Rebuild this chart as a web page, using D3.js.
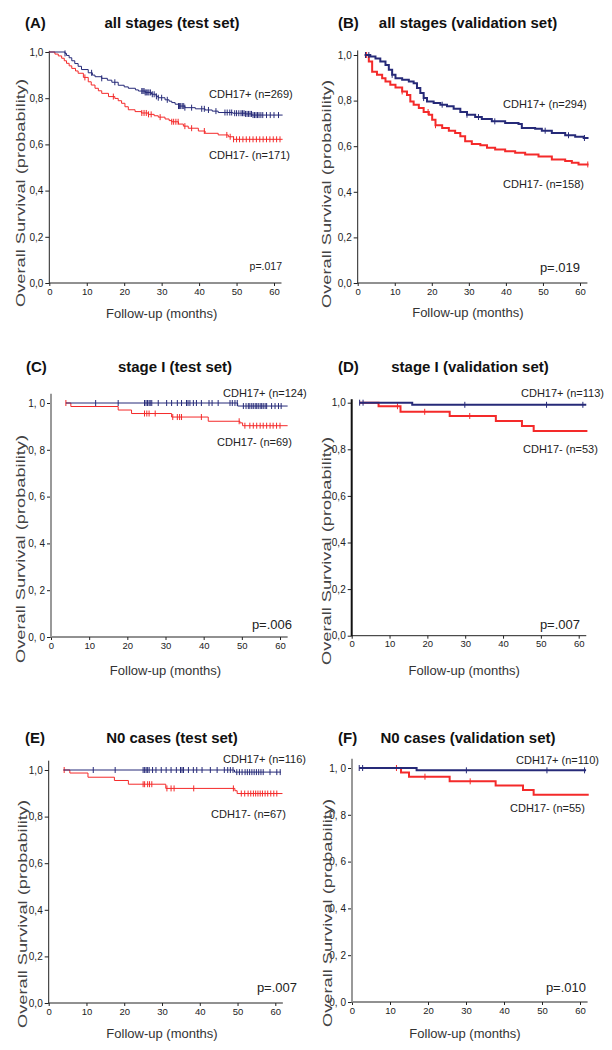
<!DOCTYPE html>
<html><head><meta charset="utf-8">
<script src="https://cdn.jsdelivr.net/npm/d3@7"></script>
<style>
html,body{margin:0;padding:0;background:#fff;}
svg{display:block;font-family:"Liberation Sans",Arial,sans-serif;}
</style></head>
<body>
<svg id="c" width="612" height="1050"></svg>
<script>
// ---------- DATA ----------
const monthTicks = [0, 10, 20, 30, 40, 50, 60];
const survTicks = [0, 0.2, 0.4, 0.6, 0.8, 1.0];
const survLabels = ["0,0", "0,2", "0,4", "0,6", "0,8", "1,0"];
const survLabelsSpaced = ["0, 0", "0, 2", "0, 4", "0, 6", "0, 8", "1, 0"];
const panelLetters = ["(A)", "(B)", "(C)", "(D)", "(E)", "(F)"];
const panelTitles = ["all stages (test set)", "all stages (validation set)", "stage I (test set)",
  "stage I (validation set)", "N0 cases (test set)", "N0 cases (validation set)"];
const posLabels = ["CDH17+ (n=269)", "CDH17+ (n=294)", "CDH17+ (n=124)", "CDH17+ (n=113)", "CDH17+ (n=116)", "CDH17+ (n=110)"];
const negLabels = ["CDH17- (n=171)", "CDH17- (n=158)", "CDH17- (n=69)", "CDH17- (n=53)", "CDH17- (n=67)", "CDH17- (n=55)"];
const pValues = ["p=.017", "p=.019", "p=.006", "p=.007", "p=.007", "p=.010"];
const xLabel = "Follow-up (months)";
const yLabel = "Overall Survival (probability)";

// Panel A
const A_posSteps = [[0,1],[4.2,0.994],[4.6,0.985],[5.3,0.975],[6.0,0.962],[6.8,0.950],[7.7,0.938],[8.6,0.924],[10.4,0.910],[11.5,0.900],[12.2,0.893],[14.0,0.886],[15.5,0.878],[16.7,0.869],[18.4,0.856],[20.0,0.849],[21.1,0.843],[23.0,0.836],[23.8,0.831],[25.6,0.825],[27.3,0.817],[28.5,0.808],[29.1,0.802],[30.9,0.793],[32.0,0.787],[32.7,0.781],[33.6,0.774],[34.5,0.766],[36.2,0.759],[39.0,0.754],[41.6,0.749],[43.5,0.744],[45.1,0.738],[49.0,0.735],[52.3,0.732],[54.1,0.727]];
const A_posEnd = 62.3;
const A_posCensor = [4.2,11.3,14.0,17.5,24.7,25.0,25.3,25.6,25.9,26.3,26.6,27.0,27.5,28.0,28.6,29.1,30.0,31.5,34.5,34.8,35.1,35.5,35.9,36.2,38.0,40.7,41.4,42.5,44.5,46.9,47.5,48.2,48.7,49.5,50.0,50.6,51.2,51.6,52.0,52.4,52.8,53.2,53.6,54.0,54.4,54.8,55.2,55.6,56.0,56.5,57.0,58.0,59.0,60.0,61.2];
const A_negSteps = [[0,1],[1.5,0.991],[2.4,0.983],[3.3,0.973],[4.0,0.962],[4.6,0.951],[5.3,0.940],[6.0,0.929],[7.0,0.918],[7.7,0.908],[9.1,0.890],[10.4,0.871],[11.2,0.857],[12.2,0.843],[13.1,0.832],[14.0,0.821],[15.8,0.807],[17.5,0.799],[18.4,0.789],[19.3,0.778],[20.2,0.763],[21.1,0.750],[22.9,0.742],[24.6,0.736],[26.4,0.730],[28.0,0.724],[29.1,0.718],[30.9,0.710],[32.0,0.703],[32.7,0.698],[34.5,0.688],[35.8,0.679],[37.1,0.670],[39.8,0.658],[41.6,0.648],[45.1,0.641],[47.8,0.633],[49.2,0.622]];
const A_negEnd = 62.3;
const A_negCensor = [9.5,17.1,24.7,25.3,25.9,26.5,27.2,29.6,32.7,33.2,33.8,34.4,36.2,38.0,41.4,47.4,48.3,49.2,50.0,50.8,51.7,52.6,53.5,54.4,55.3,56.2,57.1,58.0,58.9,59.8,60.7,61.6];

// Panel B
const B_posSteps = [[1.9,1],[3.4,0.993],[4.8,0.985],[6.1,0.971],[7.5,0.956],[8.4,0.935],[9.3,0.913],[10.2,0.898],[12.0,0.891],[13.8,0.884],[15.1,0.876],[16.0,0.855],[16.9,0.833],[17.8,0.811],[18.7,0.796],[20.5,0.789],[22.3,0.782],[24.1,0.775],[25.9,0.764],[27.7,0.750],[29.5,0.738],[31.7,0.728],[33.5,0.719],[36.2,0.709],[39.8,0.702],[43.4,0.697],[44.3,0.680],[47.9,0.677],[49.7,0.668],[52.4,0.658],[56.0,0.648],[58.7,0.641],[61.0,0.636]];
const B_posEnd = 62.3;
const B_posCensor = [2.1,3.0,9.3,17.8,22.8,29.5,32.6,37.0,50.6,56.9,61.2];
const B_negSteps = [[1.9,1],[3.0,0.971],[3.9,0.927],[5.2,0.913],[6.6,0.898],[7.5,0.884],[8.8,0.869],[10.2,0.857],[12.0,0.840],[13.3,0.825],[14.2,0.796],[15.1,0.782],[16.5,0.767],[17.8,0.750],[19.2,0.738],[20.1,0.716],[21.0,0.692],[22.8,0.680],[24.6,0.668],[26.3,0.658],[27.7,0.644],[29.0,0.622],[30.8,0.610],[33.1,0.604],[34.9,0.593],[37.1,0.585],[39.8,0.578],[42.5,0.571],[45.2,0.564],[48.8,0.555],[52.4,0.542],[56.0,0.535],[57.8,0.527],[59.6,0.520]];
const B_negEnd = 62.3;
const B_negCensor = [2.4,12.0,19.0,21.0,62.1];

// Panel C
const C_posSteps = [[3.9,1],[48.9,0.987]];
const C_posEnd = 62.0;
const C_posCensor = [11.7,17.6,24.5,24.9,25.3,25.7,26.0,26.4,28.1,30.3,31.6,33.1,34.2,35.5,35.9,36.4,37.3,38.1,39.4,41.4,42.2,43.8,46.9,47.5,48.2,48.8,50.4,51.1,51.7,52.1,52.6,53.0,53.5,53.9,54.3,54.8,55.2,55.6,56.1,56.5,57.8,58.7,59.6,60.3];
const C_negSteps = [[3.9,1],[5.2,0.985],[17.6,0.970],[21.1,0.955],[31.6,0.940],[41.2,0.922],[49.5,0.915],[50.2,0.903]];
const C_negEnd = 62.0;
const C_negCensor = [3.9,24.5,25.1,25.7,27.3,31.9,33.1,33.7,34.2,39.4,49.3,50.8,52.1,53.0,53.9,54.8,55.6,56.5,57.4,58.2,59.1,60.0];

// Panel D
const D_posSteps = [[2.1,1],[16.0,0.991]];
const D_posEnd = 62.0;
const D_posCensor = [2.1,3.0,29.9,51.5,61.1];
const D_negSteps = [[2.1,1],[7.1,0.985],[12.9,0.961],[25.9,0.943],[38.1,0.921],[45.0,0.900],[48.1,0.879]];
const D_negEnd = 62.3;
const D_negCensor = [12.1,19.3,31.2];

// Panel E
const E_posSteps = [[3.9,1],[49.2,0.991]];
const E_posEnd = 61.5;
const E_posCensor = [11.8,17.6,25.0,25.4,25.8,26.2,26.6,27.5,28.4,29.8,31.1,32.4,33.8,34.9,35.3,35.7,37.0,38.3,39.2,40.6,42.8,44.6,46.5,47.4,48.1,48.8,49.8,50.5,51.2,52.0,52.6,53.2,53.8,54.4,55.0,55.6,56.2,56.8,58.6,60.4,61.3];
const E_negSteps = [[3.9,1],[5.6,0.987],[10.4,0.969],[17.4,0.955],[21.1,0.939],[31.0,0.921],[49.3,0.911],[49.9,0.899]];
const E_negEnd = 61.9;
const E_negCensor = [4.1,25.0,25.4,26.2,26.7,27.3,31.3,32.4,33.2,38.4,48.9,51.0,51.9,52.8,53.5,54.2,54.8,55.4,56.0,56.6,57.3,58.0,58.8,59.6,60.4];

// Panel F
const F_posSteps = [[1.9,1],[17.0,0.990]];
const F_posEnd = 61.6;
const F_posCensor = [1.9,2.8,30.1,51.3,61.2];
const F_negSteps = [[1.9,1],[12.9,0.981],[15.0,0.963],[25.7,0.943],[37.8,0.925],[45.0,0.906],[47.8,0.886]];
const F_negEnd = 62.3;
const F_negCensor = [11.7,19.2,31.1];

// ---------- LAYOUT ----------
const BLUE = "#262a78", RED = "#f42a2a";
const layout = [
  {x0:49.3, x60:274, y1:52, y0:283, yTop:1.005, lw:1, yAxisColor:"#222", yAxisW:1, lbl:survLabels,
   titleY:28, letterX:25, titleCX:172, posL:[209,98], negL:[209,159], legFs:11, pXY:[282,270], pFs:10.5,
   yLabX:20, yLabCY:193, xLabY:318},
  {x0:357.7, x60:580, y1:55, y0:283, yTop:1.02, lw:2, yAxisColor:"#222", yAxisW:1, lbl:survLabels,
   titleY:28, letterX:338, titleCX:468, posL:[503,108], negL:[503,188], legFs:11, pXY:[580,272], pFs:13,
   yLabX:326, yLabCY:194, xLabY:317},
  {x0:51, x60:280, y1:403, y0:637, yTop:1.04, lw:1, yAxisColor:"#999", yAxisW:2, lbl:survLabelsSpaced,
   titleY:372, letterX:26, titleCX:175, posL:[223,397], negL:[217,446], legFs:11, pXY:[292,629], pFs:13,
   yLabX:20, yLabCY:549, xLabY:675},
  {x0:351.7, x60:578.7, y1:402.7, y0:635.7, yTop:1.015, lw:2, yAxisColor:"#111", yAxisW:2, lbl:survLabels,
   titleY:372, letterX:338, titleCX:470, posL:[521,397], negL:[523,453], legFs:11, pXY:[580,629], pFs:13,
   yLabX:326, yLabCY:551, xLabY:675},
  {x0:48.7, x60:275.3, y1:770, y0:1003, yTop:1.04, lw:1, yAxisColor:"#222", yAxisW:1, lbl:survLabels,
   titleY:743, letterX:25, titleCX:172, posL:[223,763], negL:[211,818], legFs:11, pXY:[297,992], pFs:13,
   yLabX:22, yLabCY:914, xLabY:1038},
  {x0:352, x60:580, y1:768, y0:1002, yTop:1.04, lw:2, yAxisColor:"#999", yAxisW:2, lbl:survLabelsSpaced,
   titleY:743, letterX:338, titleCX:468, posL:[516,764], negL:[510,812], legFs:11, pXY:[586,992], pFs:13,
   yLabX:327, yLabCY:913, xLabY:1038}
];
const series = [
  [A_posSteps, A_posEnd, A_posCensor, A_negSteps, A_negEnd, A_negCensor],
  [B_posSteps, B_posEnd, B_posCensor, B_negSteps, B_negEnd, B_negCensor],
  [C_posSteps, C_posEnd, C_posCensor, C_negSteps, C_negEnd, C_negCensor],
  [D_posSteps, D_posEnd, D_posCensor, D_negSteps, D_negEnd, D_negCensor],
  [E_posSteps, E_posEnd, E_posCensor, E_negSteps, E_negEnd, E_negCensor],
  [F_posSteps, F_posEnd, F_posCensor, F_negSteps, F_negEnd, F_negCensor]
];

const svg = d3.select("#c");
const bis = d3.bisector(d => d[0]).right;

function drawCurve(g, x, y, steps, end, censor, color, lw) {
  const pts = steps.concat([[end, steps[steps.length - 1][1]]]);
  const line = d3.line().x(d => x(d[0])).y(d => y(d[1])).curve(d3.curveStepAfter);
  g.append("path").attr("d", line(pts)).attr("fill", "none")
    .attr("stroke", color).attr("stroke-width", lw);
  const sAt = t => steps[Math.max(0, bis(steps, t) - 1)][1];
  g.selectAll(null).data(censor).enter().append("line")
    .attr("x1", d => x(d)).attr("x2", d => x(d))
    .attr("y1", d => y(sAt(d)) - 3).attr("y2", d => y(sAt(d)) + 3)
    .attr("stroke", color).attr("stroke-width", 1);
}

layout.forEach((L, i) => {
  const [ps, pe, pc, ns, ne, nc] = series[i];
  const x = d3.scaleLinear().domain([0, 60]).range([L.x0, L.x60]);
  const y = d3.scaleLinear().domain([0, 1]).range([L.y0, L.y1]);
  const g = svg.append("g");

  // x axis
  const xa = g.append("g").attr("transform", `translate(0,${L.y0})`)
    .call(d3.axisBottom(x).tickValues(monthTicks).tickSize(3).tickPadding(2).tickFormat(d3.format("d")));
  xa.select(".domain").remove();
  xa.selectAll("line").attr("stroke", "#222");
  xa.selectAll("text").attr("font-size", 9.5).attr("fill", "#222").attr("font-family", "Liberation Sans, Arial");
  g.append("line").attr("x1", x(0)).attr("x2", x(62)).attr("y1", L.y0).attr("y2", L.y0)
    .attr("stroke", "#222").attr("stroke-width", 1);

  // y axis
  const ya = g.append("g").attr("transform", `translate(${L.x0},0)`)
    .call(d3.axisLeft(y).tickValues(survTicks).tickSize(4).tickPadding(2).tickFormat((d, k) => L.lbl[k]));
  ya.select(".domain").remove();
  ya.selectAll("line").attr("stroke", "#222");
  ya.selectAll("text").attr("font-size", 10).attr("fill", "#222").attr("font-family", "Liberation Sans, Arial");
  g.append("line").attr("x1", L.x0).attr("x2", L.x0).attr("y1", y(L.yTop)).attr("y2", L.y0 + 0.5)
    .attr("stroke", L.yAxisColor).attr("stroke-width", L.yAxisW);

  // curves
  drawCurve(g, x, y, ns, ne, nc, RED, L.lw);
  drawCurve(g, x, y, ps, pe, pc, BLUE, L.lw);

  // titles
  g.append("text").attr("x", L.letterX).attr("y", L.titleY).text(panelLetters[i])
    .attr("font-size", 15).attr("font-weight", "bold").attr("fill", "#111");
  g.append("text").attr("x", L.titleCX).attr("y", L.titleY).attr("text-anchor", "middle").text(panelTitles[i])
    .attr("font-size", 15).attr("font-weight", "bold").attr("fill", "#111");

  // legend labels
  g.append("text").attr("x", L.posL[0]).attr("y", L.posL[1]).text(posLabels[i])
    .attr("font-size", L.legFs).attr("fill", "#222");
  g.append("text").attr("x", L.negL[0]).attr("y", L.negL[1]).text(negLabels[i])
    .attr("font-size", L.legFs).attr("fill", "#222");

  // p value
  g.append("text").attr("x", L.pXY[0]).attr("y", L.pXY[1]).attr("text-anchor", "end").text(pValues[i])
    .attr("font-size", L.pFs).attr("fill", "#222");

  // axis labels
  g.append("text").attr("x", (L.x0 + L.x60) / 2 + (i % 2 ? -1 : 0)).attr("y", L.xLabY).attr("text-anchor", "middle")
    .text(xLabel).attr("font-size", 13).attr("fill", "#333");
  g.append("text").attr("transform", `translate(${L.yLabX + 5},${L.yLabCY}) rotate(-90)`)
    .attr("text-anchor", "middle").text(yLabel).attr("font-size", 13.5)
    .attr("textLength", 228).attr("lengthAdjust", "spacingAndGlyphs").attr("fill", "#444");
});
</script>
</body></html>
